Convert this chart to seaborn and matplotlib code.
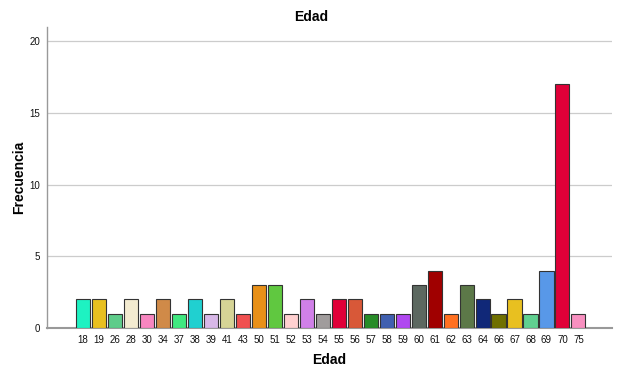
import matplotlib
matplotlib.use("Agg")
import matplotlib.pyplot as plt
import seaborn as sns
import pandas as pd

edades = ["18","19","26","28","30","34","37","38","39","41","43","50","51","52","53","54",
          "55","56","57","58","59","60","61","62","63","64","66","67","68","69","70","75"]
frecuencias = [2,2,1,2,1,2,1,2,1,2,1,3,3,1,2,1,2,2,1,1,1,3,4,1,3,2,1,2,1,4,17,1]
colores = ["#1EF2C2","#E8C020","#5ECC8A","#F3EBD0","#F786C0","#D08A48","#40E880","#20D0D0",
           "#D8B8E8","#D6D496","#F05050","#E89018","#60C840","#FFD0D0","#D080E8","#A09C9C",
           "#E00038","#D85838","#288C28","#4060B0","#B048F0","#5C6860","#A00000","#FF7020",
           "#5C7848","#102878","#707000","#E8C020","#60D090","#5898E8","#E00038","#F890C0"]

df = pd.DataFrame({"Edad": edades, "Frecuencia": frecuencias})

sns.set_style("white")
plt.rcParams['font.family'] = ['Arial', 'Liberation Sans', 'DejaVu Sans']
plt.rcParams['text.color'] = 'black'
plt.rcParams['axes.labelcolor'] = 'black'

fig = plt.figure(figsize=(6.22, 3.76), dpi=100)
ax = fig.add_axes([47/622, 1-328/376, (612-47)/622, (328-27)/376])

sns.barplot(data=df, x="Edad", y="Frecuencia", hue="Edad", palette=colores,
            legend=False, width=0.88, edgecolor="#333333", linewidth=0.8, ax=ax,
            saturation=1, zorder=3)

ax.set_xlim(-2.25, 31 + 2.1)
ax.set_ylim(0, 21)
ax.set_yticks([0, 5, 10, 15, 20])
ax.yaxis.grid(True, color="#CCCCCC", linewidth=0.9, zorder=0)
ax.set_axisbelow(True)
for s in ["top", "right"]:
    ax.spines[s].set_visible(False)
ax.spines["left"].set_color("#999999")
ax.spines["bottom"].set_color("#999999")
ax.spines["left"].set_linewidth(1.0)
ax.spines["bottom"].set_linewidth(1.5)
ax.tick_params(axis="both", labelsize=7, length=0, pad=5, colors="#111111")
ax.tick_params(axis="y", length=3, color="#999999", pad=2)

fig.text(0.5, 1 - 17/376, "Edad", fontsize=10, fontweight="bold", ha="center", va="center")
ax.set_xlabel("Edad", fontsize=10, fontweight="bold", labelpad=6)
ax.set_ylabel("Frecuencia", fontsize=10, fontweight="bold")
ax.yaxis.set_label_coords((26 - 47) / 565, 0.5)

fig.savefig("out.png", dpi=100)
